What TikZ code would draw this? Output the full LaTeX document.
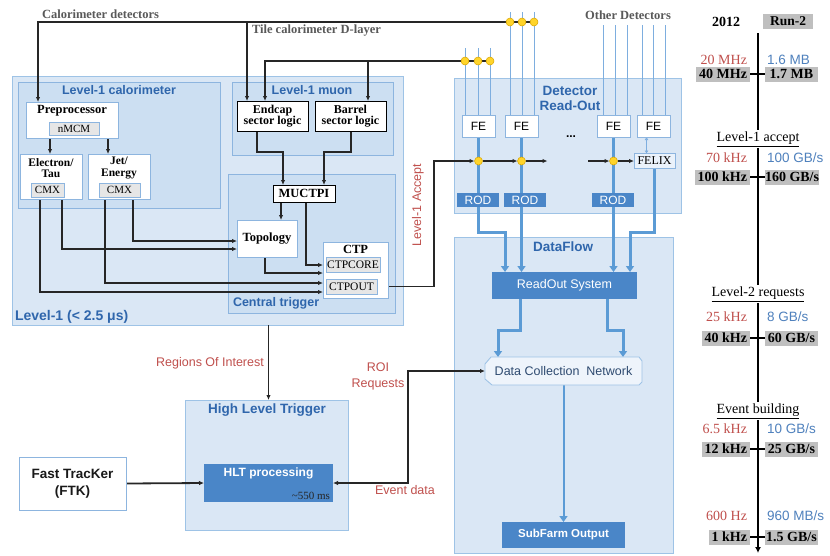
\documentclass[tikz,border=0pt]{standalone}
\usepackage{fontspec}
\setmainfont{Liberation Serif}
\setsansfont{Liberation Sans}
\usetikzlibrary{arrows.meta,calc}
\pgfdeclarelayer{back}
\pgfdeclarelayer{mid}
\pgfsetlayers{back,mid,main}
\definecolor{ttl}{HTML}{2F66AC}
\definecolor{lfill}{HTML}{DAE7F5}
\definecolor{ldraw}{HTML}{9EC3E6}
\definecolor{ifill}{HTML}{CCDFF2}
\definecolor{idraw}{HTML}{8DB5DF}
\definecolor{dkblue}{HTML}{4A86C8}
\definecolor{thickc}{HTML}{5B9BD5}
\definecolor{thinc}{HTML}{7EAEDF}
\definecolor{rtxt}{HTML}{C0504D}
\definecolor{btxt}{HTML}{4F81BD}
\definecolor{gboxc}{HTML}{BFBFBF}
\definecolor{gtxt}{HTML}{595959}
\definecolor{cmxfill}{HTML}{E6E6E6}
\definecolor{ylw}{HTML}{FFD42A}
\definecolor{ylwd}{HTML}{D9A400}
\definecolor{dcnfill}{HTML}{EEF4FB}
\definecolor{dcntxt}{HTML}{2E4A70}
\definecolor{felixfill}{HTML}{EAF2FB}
\newcommand\fsz[1]{\fontsize{#1}{#1}\selectfont}
\begin{document}
\begin{tikzpicture}[x=1pt,y=-1pt,
  every node/.style={inner sep=0pt, outer sep=0pt},
  cont/.style={draw=ldraw, fill=lfill, line width=1pt},
  icont/.style={draw=idraw, fill=ifill, line width=1pt},
  wbox/.style={draw=idraw, fill=white, line width=0.8pt},
  kbox/.style={draw=black, fill=white, line width=0.9pt},
  subbox/.style={draw=idraw, fill=cmxfill, line width=0.6pt, font=\fsz{11}},
  dk/.style={fill=dkblue, text=white, font=\sffamily\fsz{12.5}},
  ttlf/.style={text=ttl, font=\sffamily\bfseries\fsz{12.5}},
  sbf/.style={font=\bfseries\fontsize{12.5}{11}\selectfont, align=center},
  febox/.style={draw=idraw, fill=white, line width=0.8pt, minimum width=33pt, minimum height=22pt, font=\sffamily\fsz{12}},
  rodbox/.style={fill=dkblue, text=white, minimum width=42pt, minimum height=14pt, font=\sffamily\fsz{12}},
  wire/.style={line width=1.1pt, draw=black!85},
  arr/.style={wire, -{Latex[length=5pt,width=4.5pt]}},
  tk/.style={line width=3pt, draw=thickc, -{Triangle[length=6pt,width=8pt]}},
  tn/.style={line width=1pt, draw=thinc},
  ydot/.style={circle, fill=ylw, draw=ylwd, line width=0.5pt, minimum size=8pt},
  redlbl/.style={text=rtxt, font=\sffamily\fsz{12.5}},
  gtl/.style={text=gtxt, font=\bfseries\fsz{12.5}},
  rv/.style={text=rtxt, font=\fsz{14}, anchor=east},
  bv/.style={text=btxt, font=\sffamily\fsz{13.5}, anchor=west},
  gl/.style={fill=gboxc, font=\bfseries\fsz{14}, anchor=east, inner xsep=3pt, minimum height=15pt},
  gr/.style={fill=gboxc, font=\bfseries\fsz{14}, anchor=west, minimum width=53pt, minimum height=15pt},
  lvl/.style={fill=white, font=\fsz{14}, inner sep=1.5pt}
]
\useasboundingbox (0,0) rectangle (830,555);

\begin{pgfonlayer}{back}
\fill[white] (0,0) rectangle (830,555);
\node[cont, minimum width=391pt, minimum height=249pt] (L1) at (207.5,200.5) {};
\node[icont, minimum width=202pt, minimum height=126pt] (calo) at (119,145) {};
\node[icont, minimum width=161pt, minimum height=73pt] (mu) at (312.5,118.5) {};
\node[icont, minimum width=167pt, minimum height=139pt] (ct) at (311.5,243.5) {};
\node[cont, minimum width=227pt, minimum height=135pt] (dro) at (567.5,145.5) {};
\node[cont, minimum width=219pt, minimum height=316pt] (df) at (563.5,395) {};
\node[cont, minimum width=163pt, minimum height=130pt] (hlt) at (266.5,465) {};
\end{pgfonlayer}

% titles
\node[ttlf] (tcalo) at (119,90) {Level-1 calorimeter};
\node[ttlf] (tmu) at (312,90) {Level-1 muon};
\node[ttlf, anchor=west] (tct) at (233,303) {Central trigger};
\node[ttlf, anchor=west, font=\sffamily\bfseries\fsz{14}] (tl1) at (15,317) {Level-1 (< 2.5 μs)};
\node[ttlf, align=center, font=\sffamily\bfseries\fontsize{13.5}{15}\selectfont] (tdro) at (570,98.5) {Detector\\Read-Out};
\node[ttlf, font=\sffamily\bfseries\fsz{13.5}] (tdf) at (563,247) {DataFlow};
\node[ttlf, font=\sffamily\bfseries\fsz{13.5}] (thlt) at (267,410) {High Level Trigger};

% level-1 calorimeter
\node[wbox, minimum width=92pt, minimum height=36pt] (pre) at (72,120) {};
\node[sbf] (pretxt) at (72,110.5) {Preprocessor};
\node[subbox, minimum width=50pt, minimum height=13pt] (nmcm) at (74,128.5) {nMCM};
\node[wbox, minimum width=62pt, minimum height=45pt] (ele) at (51,176.5) {};
\node[sbf, font=\bfseries\fontsize{11.5}{11.5}\selectfont] (eletxt) at (51,168) {Electron/\\Tau};
\node[subbox, minimum width=33pt, minimum height=14pt] (cmx1) at (47.5,190) {CMX};
\node[wbox, minimum width=62pt, minimum height=45pt] (jet) at (119,176.5) {};
\node[sbf, font=\bfseries\fontsize{11.5}{11.5}\selectfont] (jettxt) at (119,168) {Jet/\\Energy};
\node[subbox, minimum width=41pt, minimum height=14pt] (cmx2) at (119.5,190) {CMX};

% muon
\node[kbox, minimum width=71pt, minimum height=30pt, sbf, font=\bfseries\fontsize{12}{11}\selectfont] (endcap) at (272.5,116) {Endcap\\sector logic};
\node[kbox, minimum width=71pt, minimum height=30pt, sbf, font=\bfseries\fontsize{12}{11}\selectfont] (barrel) at (350.5,116) {Barrel\\sector logic};

% central trigger
\node[kbox, minimum width=62pt, minimum height=17pt, sbf] (muctpi) at (304,193.5) {MUCTPI};
\node[wbox, minimum width=60pt, minimum height=37pt, sbf] (topo) at (267,238.5) {Topology};
\node[wbox, minimum width=65pt, minimum height=56pt] (ctp) at (355.5,270) {};
\node[sbf] (ctptxt) at (355.5,249) {CTP};
\node[subbox, minimum width=54pt, minimum height=15pt, font=\fsz{11.5}] (ctpcore) at (353,264.5) {CTPCORE};
\node[subbox, minimum width=51pt, minimum height=15pt, font=\fsz{11.5}] (ctpout) at (351.5,286.5) {CTPOUT};

% detector read-out
\node[febox] (fe1) at (478.5,126) {FE};
\node[febox] (fe2) at (521.5,126) {FE};
\node[febox] (fe3) at (613.5,126) {FE};
\node[febox] (fe4) at (653.5,126) {FE};
\node[font=\sffamily\bfseries\fsz{12}] (dots) at (571,137) {...};
\node[draw=idraw, fill=felixfill, line width=0.8pt, minimum width=41pt, minimum height=15pt, font=\fsz{12}] (felix) at (654.5,161) {FELIX};
\node[rodbox] (rod1) at (478,200) {ROD};
\node[rodbox] (rod2) at (525,200) {ROD};
\node[rodbox] (rod3) at (613,200) {ROD};
\node[ydot] (fd1) at (478.5,161) {};
\node[ydot] (fd2) at (521.5,161) {};
\node[ydot] (fd3) at (613.5,161) {};
\node[ydot] (cd1) at (510,22) {};
\node[ydot] (cd2) at (522,22) {};
\node[ydot] (cd3) at (534,22) {};
\node[ydot] (md1) at (465,61) {};
\node[ydot] (md2) at (478,61) {};
\node[ydot] (md3) at (490,61) {};

% dataflow
\node[dk, minimum width=145pt, minimum height=27pt] (ros) at (564.5,285.5) {ReadOut System};
\node[minimum width=157pt, minimum height=28pt] (dcn) at (563.5,371) {};
\draw[draw=ldraw, fill=dcnfill, line width=0.9pt] (491,357) -- (639,357) -- (642,361) -- (642,382) -- (639,385) -- (492,385) -- (485,379) -- (485,364) -- cycle;
\node[text=dcntxt, font=\sffamily\fsz{12.5}] (dcntxt) at (563.5,371) {Data Collection\ \ Network};
\node[dk, font=\sffamily\bfseries\fsz{11.5}, minimum width=123pt, minimum height=26pt] (sfo) at (563.5,535) {SubFarm Output};

% HLT
\node[dk, minimum width=129pt, minimum height=38pt] (hltp) at (268.5,483) {};
\node[text=white, font=\sffamily\bfseries\fsz{12}] (hltptxt) at (268.5,473) {HLT processing};
\node[anchor=east, text=black!85, font=\fsz{11}] (hltms) at (330,496) {\textasciitilde550 ms};
\node[wbox, minimum width=107pt, minimum height=53pt, align=center, text=black!90, font=\sffamily\bfseries\fontsize{13.5}{17}\selectfont] (ftk) at (72.5,483.5) {Fast TracKer\\(FTK)};

% labels
\node[gtl, anchor=west] (lcal) at (42,14) {Calorimeter detectors};
\node[gtl, anchor=west] (ltile) at (252,31) {Tile calorimeter D-layer};
\node[gtl] (loth) at (628,15) {Other Detectors};
\node[redlbl] (lroi) at (210,363) {Regions Of Interest};
\node[redlbl, align=center, font=\sffamily\fontsize{12.5}{16}\selectfont] (lreq) at (378,376) {ROI\\Requests};
\node[redlbl] (lev) at (405,490) {Event data};
\node[redlbl, rotate=90] (lacc) at (418,205) {Level-1 Accept};

\begin{pgfonlayer}{mid}
% detector input lines
\foreach \x in {465,478,490} \draw[tn] (\x,48) -- (\x,115);
\foreach \x in {510,522,534} \draw[tn] (\x,12) -- (\x,115);
\foreach \x in {603,615,627,642,653,665} \draw[tn] (\x,25) -- (\x,115);
% calorimeter / muon feeds
\draw[arr] (cd3.center) -| ($(pre.north west)+(12,0)$);
\draw[arr] (247,22) -- ($(endcap.north west)+(10,0)$);
\draw[arr] (md3.center) -| ($(endcap.north west)+(28,0)$);
\draw[arr] (368,61) -- ($(barrel.north west)+(53,0)$);
% calo internals
\draw[arr] ($(pre.south west)+(24,0)$) -- ($(ele.north west)+(30,0)$);
\draw[arr] ($(pre.south west)+(82,0)$) -- ($(jet.north west)+(20,0)$);
\draw[arr] ($(cmx1.south east)+(-2,0)$) |- ($(topo.west)+(0,10.5)$);
\draw[arr] ($(cmx2.south east)+(-7,0)$) |- ($(topo.west)+(0,2.5)$);
\draw[arr] ($(cmx2.south west)+(6,0)$) |- ($(ctp.west)+(0,13)$);
\draw[arr] ($(cmx1.south west)+(9,0)$) |- ($(ctp.west)+(0,22)$);
% muon / central trigger
\draw[arr] ($(endcap.south west)+(20,0)$) -- ++(0,21) -| ($(muctpi.north west)+(10,0)$);
\draw[arr] ($(barrel.south west)+(36,0)$) -- ++(0,21) -| ($(muctpi.north west)+(51,0)$);
\draw[arr] ($(muctpi.south west)+(8,0)$) -- ($(topo.north west)+(44,0)$);
\draw[arr] ($(muctpi.south west)+(33,0)$) |- ($(ctp.west)+(0,-5)$);
\draw[arr] ($(topo.south west)+(28,0)$) |- ($(ctp.west)+(0,3)$);
% level-1 accept
\draw[arr] (ctp.east |- ctpout.east) -- (434,286.5) |- (fd1.west);
\draw[arr] (fd1.east) -- (fd2.west);
\draw[arr] (fd2.east) -- ++(22,0);
\draw[arr] (588,161) -- (fd3.west);
\draw[arr] (fd3.east) -- (felix.west);
% readout thick lines
\draw[tk] (fe1.south) -- (478.5,232) -| ($(ros.north west)+(13,0)$);
\draw[tk] (fe2.south) -- (fe2.south |- ros.north);
\draw[tk] (fe3.south) -- (fe3.south |- ros.north);
\draw[tk] (felix.south) -- (654.5,232) -| ($(ros.north east)+(-7,0)$);
\draw[line width=1.3pt, draw=thinc, {Latex[length=3pt,width=4pt]}-{Latex[length=3pt,width=4pt]}] ($(fe4.south)+(-7,0)$) -- ($(felix.north)+(-8,0)$);
\draw[tk] ($(ros.south west)+(28,0)$) -- ++(0,31) -| ($(dcn.north west)+(13,0)$);
\draw[tk] ($(ros.south west)+(115,0)$) -- ++(0,31) -| ($(dcn.north west)+(138,0)$);
\draw[tk, line width=2pt] (dcn.south) -- (sfo.north);
% HLT
\draw[arr, line width=1.6pt] (L1.south -| hltp.north) -- (hlt.north -| hltp.north);
\draw[arr, line width=1.8pt] (ftk.east) -- (hltp.west);
\draw[wire, line width=1.4pt, {Latex[length=5pt,width=4.5pt]}-{Latex[length=5pt,width=4.5pt]}] (dcn.west) -- (408,371) |- (hltp.east);
\end{pgfonlayer}

% right column
\node[font=\bfseries\fsz{14}] (y12) at (726,22) {2012};
\node[fill=gboxc, font=\bfseries\fsz{13.5}, minimum width=50pt, minimum height=15pt] (run2) at (788,21.5) {Run-2};
\coordinate (tltop) at (758,33);
\coordinate (tlbot) at (758,553);
\draw[line width=2pt, -{Latex[length=6pt,width=6pt]}] (tltop) -- (tlbot);
\node[lvl] (lv1) at (758,139) {\underline{Level-1 accept}};
\node[lvl] (lv2) at (758,294) {\underline{Level-2 requests}};
\node[lvl] (lv3) at (758,411) {\underline{Event building}};
\foreach \ya/\yb/\ra/\ba/\gla/\gra in {
  60/74/20 MHz/1.6 MB/40 MHz/1.7 MB,
  158/177/70 kHz/100 GB\slash s/100 kHz/160 GB\slash s,
  317/338/25 kHz/8 GB\slash s/40 kHz/60 GB\slash s,
  429/449/6.5 kHz/10 GB\slash s/12 kHz/25 GB\slash s,
  516/537/600 Hz/960 MB\slash s/1 kHz/1.5 GB\slash s}{
  \node[rv] at (747,\ya) {\ra};
  \node[bv] at (767,\ya) {\ba};
  \node[gl] (gL) at (750,\yb) {\gla};
  \node[gr] (gR) at (765,\yb) {\gra};
  \draw[line width=1.5pt] (gL.east) -- (gR.west);
}
\end{tikzpicture}
\end{document}
